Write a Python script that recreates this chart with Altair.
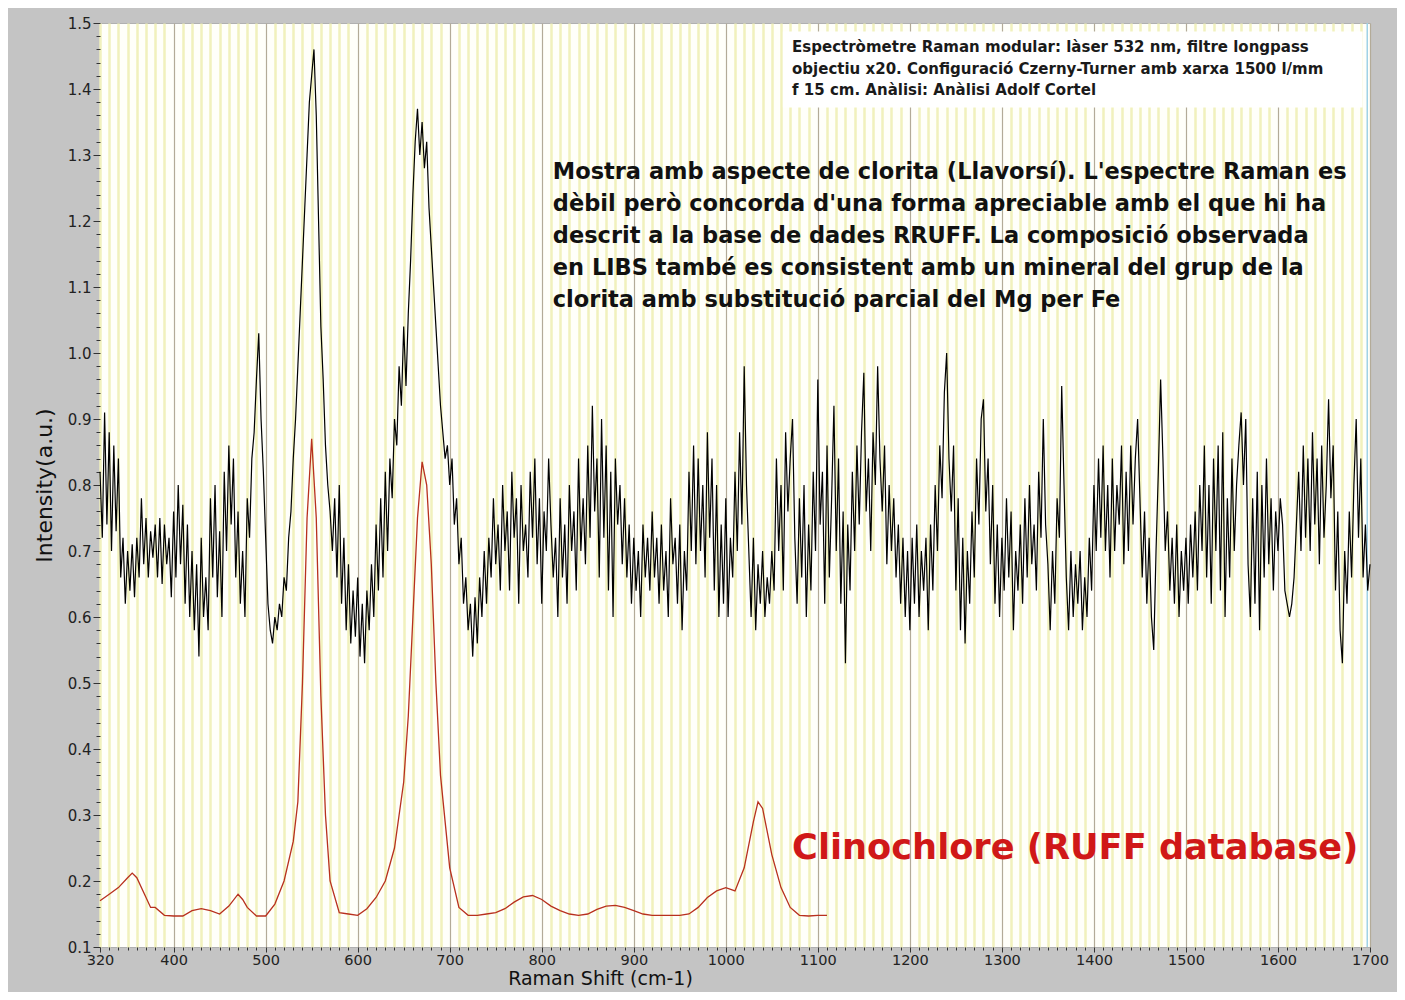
import altair as alt
import pandas as pd

# ---------------- data ----------------
# Sample (black) spectrum, read every 2.5 cm-1 from 320 to 1700
sample_int = [
    # 320 - 417.5
    0.82, 0.72, 0.91, 0.74, 0.88, 0.70, 0.86, 0.73, 0.84, 0.66,
    0.72, 0.62, 0.70, 0.64, 0.71, 0.63, 0.72, 0.66, 0.78, 0.68,
    0.75, 0.66, 0.73, 0.69, 0.74, 0.66, 0.75, 0.65, 0.74, 0.68,
    0.72, 0.63, 0.76, 0.66, 0.80, 0.68, 0.77, 0.62, 0.74, 0.60,
    # 420 - 517.5
    0.70, 0.58, 0.68, 0.54, 0.72, 0.60, 0.66, 0.58, 0.78, 0.66,
    0.80, 0.63, 0.73, 0.60, 0.82, 0.70, 0.86, 0.74, 0.84, 0.66,
    0.76, 0.62, 0.70, 0.60, 0.78, 0.72, 0.84, 0.88, 0.96, 1.03,
    0.90, 0.82, 0.72, 0.62, 0.58, 0.56, 0.60, 0.58, 0.62, 0.60,
    # 520 - 617.5
    0.66, 0.64, 0.72, 0.76, 0.84, 0.90, 0.98, 1.06, 1.14, 1.22,
    1.30, 1.38, 1.42, 1.46, 1.36, 1.20, 1.04, 0.96, 0.86, 0.80,
    0.76, 0.70, 0.78, 0.66, 0.80, 0.62, 0.72, 0.58, 0.68, 0.56,
    0.64, 0.57, 0.66, 0.54, 0.62, 0.53, 0.64, 0.58, 0.68, 0.60,
    # 620 - 717.5
    0.74, 0.64, 0.78, 0.66, 0.82, 0.70, 0.84, 0.78, 0.90, 0.86,
    0.98, 0.92, 1.04, 0.95, 1.06, 1.14, 1.24, 1.32, 1.37, 1.30,
    1.35, 1.28, 1.32, 1.22, 1.16, 1.10, 1.04, 0.98, 0.92, 0.88,
    0.84, 0.86, 0.80, 0.84, 0.74, 0.78, 0.68, 0.72, 0.62, 0.66,
    # 720 - 817.5
    0.58, 0.62, 0.54, 0.63, 0.56, 0.66, 0.60, 0.70, 0.62, 0.72,
    0.66, 0.78, 0.68, 0.74, 0.64, 0.80, 0.70, 0.76, 0.64, 0.82,
    0.72, 0.78, 0.62, 0.80, 0.70, 0.74, 0.66, 0.82, 0.72, 0.84,
    0.68, 0.78, 0.62, 0.76, 0.70, 0.84, 0.74, 0.66, 0.72, 0.60,
    # 820 - 917.5
    0.78, 0.66, 0.74, 0.62, 0.80, 0.70, 0.76, 0.64, 0.84, 0.70,
    0.78, 0.68, 0.86, 0.72, 0.92, 0.76, 0.84, 0.66, 0.90, 0.72,
    0.86, 0.64, 0.82, 0.60, 0.84, 0.74, 0.80, 0.68, 0.78, 0.66,
    0.74, 0.62, 0.72, 0.64, 0.70, 0.60, 0.74, 0.66, 0.72, 0.64,
    # 920 - 1017.5
    0.76, 0.66, 0.72, 0.62, 0.74, 0.64, 0.70, 0.60, 0.78, 0.68,
    0.72, 0.62, 0.74, 0.58, 0.70, 0.64, 0.82, 0.70, 0.86, 0.68,
    0.84, 0.70, 0.80, 0.66, 0.88, 0.72, 0.84, 0.64, 0.80, 0.60,
    0.74, 0.62, 0.78, 0.60, 0.72, 0.66, 0.82, 0.70, 0.88, 0.74,
    # 1020 - 1117.5
    0.98, 0.80, 0.70, 0.60, 0.72, 0.58, 0.68, 0.62, 0.70, 0.60,
    0.66, 0.62, 0.70, 0.64, 0.84, 0.70, 0.80, 0.64, 0.88, 0.76,
    0.84, 0.90, 0.72, 0.62, 0.78, 0.66, 0.80, 0.60, 0.74, 0.64,
    0.82, 0.70, 0.96, 0.74, 0.82, 0.62, 0.86, 0.66, 0.78, 0.92,
    # 1120 - 1217.5
    0.70, 0.84, 0.62, 0.76, 0.53, 0.74, 0.64, 0.82, 0.70, 0.86,
    0.74, 0.88, 0.97, 0.76, 0.84, 0.70, 0.88, 0.80, 0.98, 0.84,
    0.76, 0.86, 0.68, 0.80, 0.70, 0.78, 0.66, 0.74, 0.62, 0.72,
    0.60, 0.70, 0.58, 0.72, 0.62, 0.74, 0.60, 0.70, 0.64, 0.72,
    # 1220 - 1317.5
    0.58, 0.74, 0.64, 0.80, 0.70, 0.86, 0.78, 0.94, 1.00, 0.84,
    0.76, 0.86, 0.64, 0.78, 0.58, 0.72, 0.56, 0.70, 0.62, 0.76,
    0.66, 0.84, 0.74, 0.90, 0.93, 0.76, 0.84, 0.68, 0.80, 0.62,
    0.74, 0.60, 0.72, 0.64, 0.78, 0.66, 0.76, 0.58, 0.70, 0.64,
    # 1320 - 1417.5
    0.74, 0.62, 0.78, 0.66, 0.80, 0.68, 0.74, 0.64, 0.82, 0.72,
    0.90, 0.74, 0.68, 0.58, 0.70, 0.62, 0.78, 0.72, 0.95, 0.80,
    0.66, 0.58, 0.70, 0.60, 0.68, 0.62, 0.70, 0.58, 0.66, 0.60,
    0.72, 0.64, 0.80, 0.70, 0.84, 0.72, 0.86, 0.70, 0.80, 0.66,
    # 1420 - 1517.5
    0.84, 0.70, 0.80, 0.74, 0.86, 0.68, 0.82, 0.70, 0.86, 0.74,
    0.84, 0.90, 0.78, 0.66, 0.76, 0.62, 0.72, 0.60, 0.55, 0.70,
    0.82, 0.96, 0.84, 0.70, 0.76, 0.64, 0.72, 0.62, 0.74, 0.60,
    0.70, 0.64, 0.72, 0.62, 0.74, 0.66, 0.76, 0.64, 0.80, 0.70,
    # 1520 - 1617.5
    0.86, 0.66, 0.80, 0.62, 0.84, 0.70, 0.86, 0.64, 0.88, 0.60,
    0.78, 0.66, 0.84, 0.70, 0.80, 0.86, 0.91, 0.80, 0.90, 0.68,
    0.60, 0.78, 0.62, 0.82, 0.58, 0.80, 0.66, 0.84, 0.68, 0.78,
    0.64, 0.76, 0.70, 0.78, 0.74, 0.64, 0.62, 0.60, 0.62, 0.66,
    # 1620 - 1700
    0.74, 0.82, 0.70, 0.86, 0.72, 0.84, 0.70, 0.88, 0.74, 0.84,
    0.68, 0.86, 0.72, 0.80, 0.93, 0.78, 0.86, 0.64, 0.76, 0.58,
    0.53, 0.70, 0.62, 0.76, 0.66, 0.80, 0.90, 0.72, 0.84, 0.66,
    0.74, 0.64, 0.68,
]
sample_shift = [320 + 2.5 * i for i in range(len(sample_int))]

# Reference clinochlore (red) spectrum
ref_shift = [320, 330, 340, 350, 355, 360, 370, 375, 380, 390, 400, 410, 420, 430,
             440, 450, 460, 470, 475, 480, 490, 500, 510, 520, 530, 535, 540, 545,
             550, 555, 560, 565, 570, 580, 590, 600, 610, 620, 630, 640, 650, 655,
             660, 665, 670, 675, 680, 685, 690, 700, 710, 720, 730, 740, 750, 760,
             770, 780, 790, 800, 810, 820, 830, 840, 850, 860, 870, 880, 890, 900,
             910, 920, 930, 940, 950, 960, 970, 980, 990, 1000, 1010, 1020, 1030,
             1035, 1040, 1050, 1060, 1070, 1080, 1090, 1100, 1110]
ref_int = [0.170, 0.180, 0.190, 0.205, 0.212, 0.205, 0.175, 0.160, 0.160, 0.148,
           0.147, 0.147, 0.155, 0.158, 0.155, 0.150, 0.162, 0.180, 0.172, 0.160,
           0.147, 0.147, 0.165, 0.200, 0.260, 0.320, 0.500, 0.750, 0.870, 0.750,
           0.480, 0.300, 0.200, 0.152, 0.150, 0.148, 0.158, 0.175, 0.200, 0.250,
           0.350, 0.450, 0.600, 0.750, 0.835, 0.800, 0.680, 0.500, 0.360, 0.220,
           0.160, 0.148, 0.148, 0.150, 0.152, 0.158, 0.168, 0.176, 0.178, 0.172,
           0.162, 0.155, 0.150, 0.148, 0.150, 0.157, 0.162, 0.163, 0.160, 0.155,
           0.150, 0.148, 0.148, 0.148, 0.148, 0.150, 0.160, 0.175, 0.185, 0.190,
           0.185, 0.220, 0.290, 0.320, 0.310, 0.240, 0.190, 0.160, 0.148, 0.147,
           0.148, 0.148]

x_ticks = list(range(320, 1701, 10))
y_ticks = [round(0.1 + 0.02 * i, 2) for i in range(71)]

info_text = ("Espectròmetre Raman modular: làser 532 nm, filtre longpass\n"
             "objectiu x20. Configuració Czerny-Turner amb xarxa 1500 l/mm\n"
             "f 15 cm. Anàlisi: Anàlisi Adolf Cortel")
desc_text = ("Mostra amb aspecte de clorita (Llavorsí). L'espectre Raman es\n"
             "dèbil però concorda d'una forma apreciable  amb el que hi ha\n"
             "descrit a la base de dades RRUFF. La composició observada\n"
             "en LIBS també es consistent amb un mineral del grup de la\n"
             "clorita amb substitució parcial del Mg per Fe")
ref_label = "Clinochlore (RUFF database)"

sample_df = pd.DataFrame({"shift": sample_shift, "intensity": sample_int})
ref_df = pd.DataFrame({"shift": ref_shift, "intensity": ref_int})

# ---------------- chart ----------------
FONT = "DejaVu Sans"
TXT = "DejaVu Sans"

xscale = alt.Scale(domain=[320, 1700], nice=False, zero=False)
yscale = alt.Scale(domain=[0.1, 1.5], nice=False, zero=False)

x_major = "datum.value % 100 === 0 || datum.value === 320"
y_major = "abs(datum.value * 10 - round(datum.value * 10)) < 0.001"

x_axis = alt.Axis(
    values=x_ticks, tickCount=500, format="d",
    labelExpr=f"({x_major}) ? datum.label : ''",
    labelOverlap=False, labelFlush=False, labelFont=FONT, labelFontSize=14.5,
    labelColor="#222222", labelPadding=1,
    tickSize={"condition": {"test": x_major, "value": 5}, "value": 3},
    tickColor="#333333", tickWidth=1,
    grid=True,
    gridColor={"condition": {"test": "datum.value % 100 === 0", "value": "#b3ab98"},
               "value": "#f1f1bd"},
    gridWidth={"condition": {"test": "datum.value % 100 === 0", "value": 1.2},
               "value": 2.5},
    domain=False,
    title="Raman Shift (cm-1)", titleFont=FONT, titleFontSize=19,
    titleFontWeight="normal", titleColor="#111111",
    titleX=500, titleY=22, titleBaseline="top", titleAlign="center",
)
y_axis = alt.Axis(
    values=y_ticks, tickCount=500, format=".1f",
    labelExpr=f"({y_major}) ? format(datum.value, '.1f') : ''",
    labelOverlap=False, labelFlush=False, labelFont=FONT, labelFontSize=15,
    labelColor="#222222", labelPadding=2,
    tickSize={"condition": {"test": y_major, "value": 7}, "value": 4},
    tickColor="#333333", tickWidth=1,
    grid=False, domain=False,
    title="Intensity(a.u.)", titleFont=FONT, titleFontSize=22,
    titleFontWeight="normal", titleColor="#111111",
    titleX=-56, titleY=462, titleAngle=270, titleAlign="center",
    titleBaseline="middle",
)

sample_line = alt.Chart(sample_df).mark_line(
    color="#000000", strokeWidth=1.2, interpolate="linear"
).encode(
    x=alt.X("shift:Q", scale=xscale, axis=x_axis),
    y=alt.Y("intensity:Q", scale=yscale, axis=y_axis),
)

ref_line = alt.Chart(ref_df).mark_line(
    color="#b8301e", strokeWidth=1.3
).encode(
    x=alt.X("shift:Q", scale=xscale),
    y=alt.Y("intensity:Q", scale=yscale),
)

edge_rule = alt.Chart(pd.DataFrame({"x": [1697]})).mark_rule(
    color="#9fd2e6", strokeWidth=1.5
).encode(x=alt.X("x:Q", scale=xscale))

box_df = pd.DataFrame({"x": [1062], "x2": [1692], "y": [1.487], "y2": [1.372]})
info_box = alt.Chart(box_df).mark_rect(color="#ffffff").encode(
    x=alt.X("x:Q", scale=xscale), x2="x2:Q",
    y=alt.Y("y:Q", scale=yscale), y2="y2:Q",
)

info = alt.Chart(pd.DataFrame({"x": [1072], "y": [1.474], "t": [info_text]})).mark_text(
    align="left", baseline="top", font=TXT, fontSize=15.0, fontWeight="bold",
    color="#1a1a1a", lineBreak="\n", lineHeight=21.5
).encode(x=alt.X("x:Q", scale=xscale), y=alt.Y("y:Q", scale=yscale), text="t:N")

desc = alt.Chart(pd.DataFrame({"x": [812], "y": [1.291], "t": [desc_text]})).mark_text(
    align="left", baseline="top", font=TXT, fontSize=22.5, fontWeight="bold",
    color="#111111", lineBreak="\n", lineHeight=32
).encode(x=alt.X("x:Q", scale=xscale), y=alt.Y("y:Q", scale=yscale), text="t:N")

red_lbl = alt.Chart(pd.DataFrame({"x": [1072], "y": [0.25], "t": [ref_label]})).mark_text(
    align="left", baseline="middle", font=TXT, fontSize=35.2, fontWeight="bold",
    color="#d01818"
).encode(x=alt.X("x:Q", scale=xscale), y=alt.Y("y:Q", scale=yscale), text="t:N")

chart = alt.layer(
    edge_rule, info_box, ref_line, sample_line, info, desc, red_lbl
).properties(
    width=1270, height=924,
    padding={"left": 92, "top": 15, "right": 27, "bottom": 45},
    autosize=alt.AutoSizeParams(type="none"),
).configure(
    background="#c4c4c4"
).configure_view(
    fill="#fffffa", stroke="#b0b0b0", strokeWidth=1
)

chart.save("out.html", embed_options={"renderer": "svg", "actions": False})
